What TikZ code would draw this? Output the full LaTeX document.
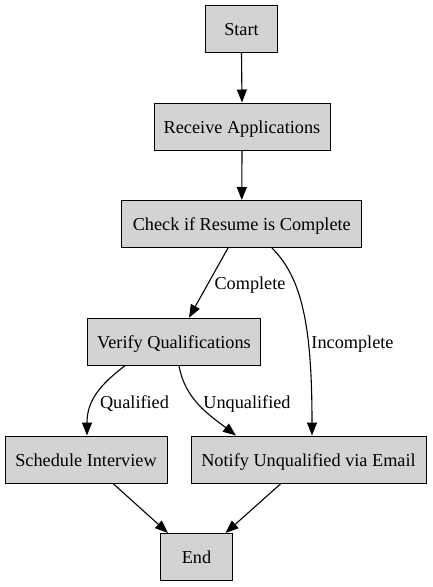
\documentclass[tikz,border=0pt]{standalone}
\usepackage{fontspec}
\setmainfont{Liberation Serif}
\usetikzlibrary{arrows.meta}
\definecolor{boxgray}{HTML}{D3D3D3}
\begin{document}
\begin{tikzpicture}[x=1pt,y=-1pt,
  box/.style={draw=black, fill=boxgray, line width=1pt, minimum height=47pt, inner sep=0pt, text height=13.5pt, text depth=0pt, font=\fontsize{18.25}{22}\selectfont},
  edge/.style={line width=1.1pt, -{Triangle[length=13pt,width=10pt]}},
  lbl/.style={font=\fontsize{18.25}{22}\selectfont, inner sep=0pt, text height=13.5pt, text depth=0pt}]
\useasboundingbox (0,0) rectangle (432,587);
\node[box, minimum width=72pt]    (start)  at (241.5,29)   {Start};
\node[box, minimum width=176pt]   (recv)   at (242,126.5)  {Receive Applications};
\node[box, minimum width=240pt]   (check)  at (241.8,224)  {Check if Resume is Complete};
\node[box, minimum width=173.5pt] (verify) at (174,341.7)  {Verify Qualifications};
\node[box, minimum width=162pt]   (sched)  at (86,459.5)   {Schedule Interview};
\node[box, minimum width=235pt]   (notify) at (308.5,459.5){Notify Unqualified via Email};
\node[box, minimum width=71.5pt]  (fin)    at (196.5,557)  {End};

\draw[edge] (start.south) -- (recv.north);
\draw[edge] (recv.south) -- (check.north);
\draw[edge] ([xshift=-13.8pt]check.south) -- ([xshift=15pt]verify.north);
\draw[edge] ([xshift=30.2pt]check.south) .. controls +(30,30) and +(0,-110) .. ([xshift=3.5pt]notify.north);
\draw[edge] ([xshift=-49pt]verify.south) .. controls +(-25,19) and +(0,-35) .. ([xshift=1pt]sched.north);
\draw[edge] ([xshift=5pt]verify.south) .. controls +(6,34) and +(-26,-20) .. ([xshift=-72.5pt]notify.north);
\draw[edge] ([xshift=27pt]sched.south) -- ([xshift=-28.5pt]fin.north);
\draw[edge] ([xshift=-27.5pt]notify.south) -- ([xshift=29pt]fin.north);

\node[lbl] (lcomp)  at (250,283)   {Complete};
\node[lbl] (linc)   at (352.5,342) {Incomplete};
\node[lbl] (lqual)  at (134.5,402) {Qualified};
\node[lbl] (lunq)   at (247,402)   {Unqualified};
\end{tikzpicture}
\end{document}
